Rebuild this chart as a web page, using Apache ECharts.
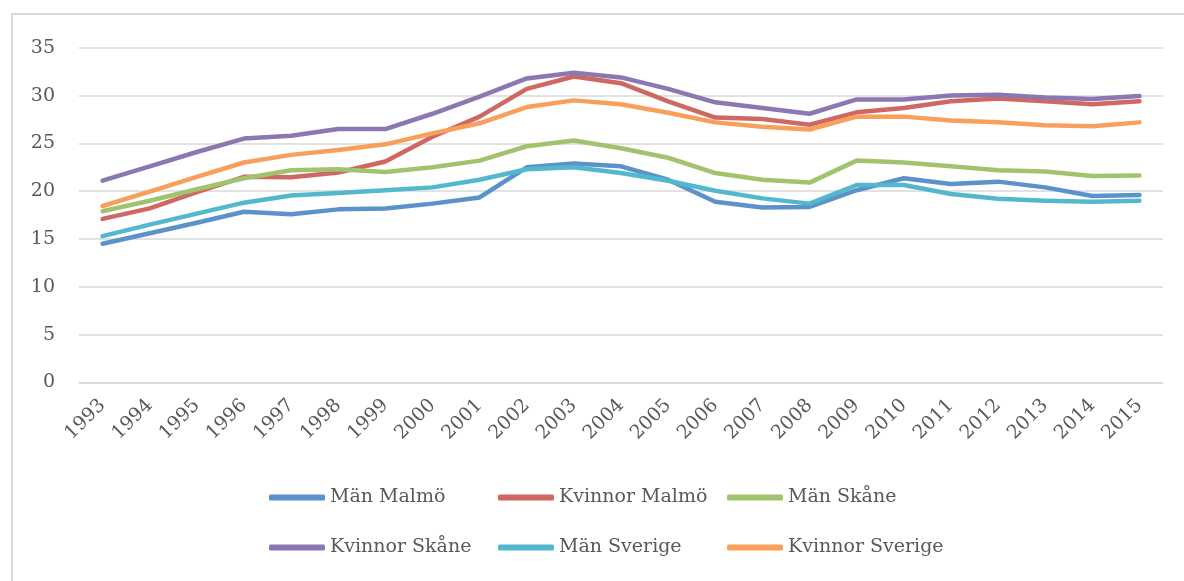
<!DOCTYPE html>
<html>
<head>
<meta charset="utf-8">
<script src="https://cdn.jsdelivr.net/npm/echarts@6/dist/echarts.min.js"></script>
<style>html,body{margin:0;padding:0;background:#fff}#c{width:1184px;height:581px}</style>
</head>
<body>
<div id="c"></div>
<script>
const years = ['1993','1994','1995','1996','1997','1998','1999','2000','2001','2002','2003','2004','2005','2006','2007','2008','2009','2010','2011','2012','2013','2014','2015'];
const manMalmo     = [14.5,15.6,16.7,17.85,17.6,18.1,18.2,18.7,19.35,22.5,22.9,22.6,21.2,18.9,18.3,18.35,20.1,21.35,20.75,21.0,20.4,19.5,19.6];
const kvinnorMalmo = [17.1,18.2,19.9,21.5,21.45,21.95,23.1,25.7,27.8,30.7,32.0,31.3,29.4,27.7,27.55,26.95,28.25,28.7,29.4,29.7,29.4,29.1,29.4];
const manSkane     = [17.9,19.0,20.2,21.35,22.2,22.3,22.0,22.5,23.2,24.7,25.3,24.5,23.5,21.9,21.2,20.9,23.2,23.0,22.6,22.2,22.05,21.6,21.65];
const kvinnorSkane = [21.1,22.6,24.1,25.5,25.8,26.5,26.5,28.1,29.9,31.8,32.4,31.9,30.7,29.3,28.7,28.1,29.6,29.6,30.0,30.1,29.8,29.65,29.95];
const manSverige   = [15.3,16.5,17.65,18.8,19.55,19.8,20.1,20.4,21.2,22.3,22.5,21.9,21.1,20.05,19.25,18.7,20.65,20.65,19.7,19.2,19.0,18.9,19.0];
const kvinnorSverige=[18.45,19.95,21.5,23.0,23.8,24.3,24.9,26.05,27.1,28.8,29.5,29.1,28.2,27.2,26.75,26.45,27.8,27.8,27.4,27.2,26.9,26.8,27.2];
const yTicks = [0,5,10,15,20,25,30,35];

const names = ['Män Malmö','Kvinnor Malmö','Män Skåne','Kvinnor Skåne','Män Sverige','Kvinnor Sverige'];
const data = [manMalmo,kvinnorMalmo,manSkane,kvinnorSkane,manSverige,kvinnorSverige];
const colors = ['#5b92c9','#cf6862','#a1c36e','#8b77b2','#54b8cd','#f8a05b'];
const font = 'DejaVu Serif';
const txt = '#595959';

const chart = echarts.init(document.getElementById('c'), null, {renderer:'canvas'});
const legendCols = [269, 498, 727];
const legendRows = [488, 538];
const legends = names.map((n,i)=>({
  data: [n], left: legendCols[i%3], top: legendRows[Math.floor(i/3)],
  icon: 'roundRect', itemWidth: 56, itemHeight: 6, itemGap: 0,
  textStyle: {fontFamily: font, fontSize: 19, color: txt},
  selectedMode: false, padding: 0
}));
chart.setOption({
  animation: false,
  color: colors,
  textStyle: {fontFamily: font},
  graphic: [{type:'rect', shape:{x:12, y:14, width:1200, height:600}, style:{fill:'none', stroke:'#d9d9d9', lineWidth:2}, silent:true}],
  grid: {left: 79, right: 21, top: 47.8, bottom: 198.6, containLabel: false},
  legend: legends,
  xAxis: {
    type: 'category', data: years, boundaryGap: true,
    axisLine: {lineStyle: {color: '#d9d9d9', width: 1.5}},
    axisTick: {show: false},
    axisLabel: {rotate: 45, color: txt, fontFamily: font, fontSize: 19, margin: 20, interval: 0}
  },
  yAxis: {
    type: 'value', min: yTicks[0], max: yTicks[yTicks.length-1], interval: 5,
    axisLine: {show: false}, axisTick: {show: false},
    axisLabel: {color: txt, fontFamily: font, fontSize: 19, margin: 24},
    splitLine: {lineStyle: {color: '#d9d9d9', width: 1.5}}
  },
  series: names.map((n,i)=>({
    name: n, type: 'line', data: data[i], showSymbol: false, symbol: 'none',
    lineStyle: {width: 4.5, cap: 'round', join: 'round', color: colors[i]},
    itemStyle: {color: colors[i]}
  }))
});
</script>
</body>
</html>
